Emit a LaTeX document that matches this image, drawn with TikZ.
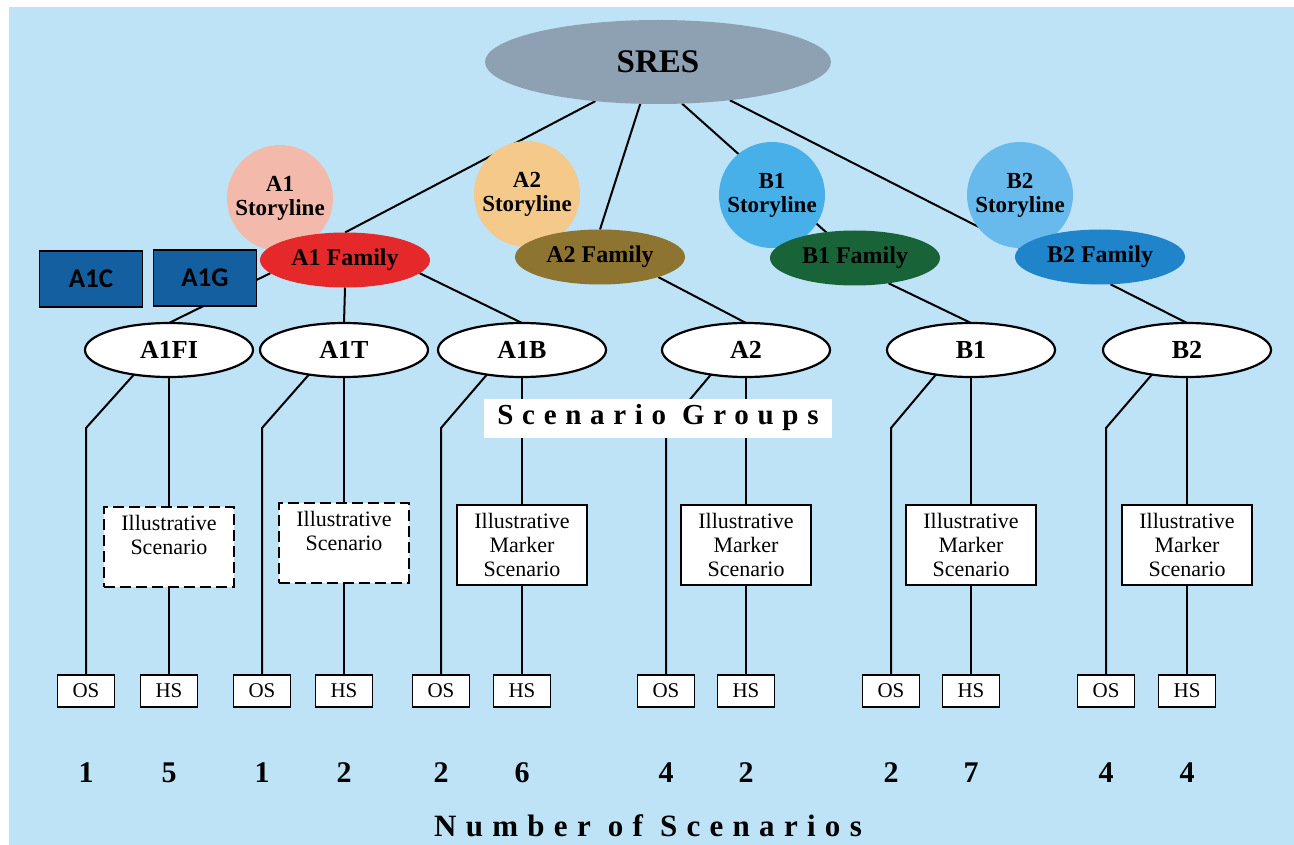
\documentclass[tikz,border=0pt]{standalone}
\usepackage{fontspec}
\setmainfont{Liberation Serif}
\newfontfamily\boxsans{Carlito}
\newfontfamily\trackedserif[LetterSpace=30]{Liberation Serif}
\usetikzlibrary{shapes.geometric}
\pgfdeclarelayer{panel}
\pgfdeclarelayer{links}
\pgfsetlayers{panel,links,main}

\definecolor{panelblue}{RGB}{190,226,246}
\definecolor{sresgrey}{RGB}{142,161,178}
\definecolor{aonestory}{RGB}{243,186,172}
\definecolor{atwostory}{RGB}{245,201,138}
\definecolor{bonestory}{RGB}{72,176,232}
\definecolor{btwostory}{RGB}{104,186,236}
\definecolor{aonefam}{RGB}{229,40,42}
\definecolor{atwofam}{RGB}{141,116,48}
\definecolor{bonefam}{RGB}{24,100,56}
\definecolor{btwofam}{RGB}{32,132,202}
\definecolor{subblue}{RGB}{20,95,160}

\tikzset{
  every node/.style={inner sep=0pt, outer sep=0pt},
  link/.style={draw=black, line width=2pt, line join=round},
  sresnode/.style={ellipse, fill=sresgrey, minimum width=346pt, minimum height=84pt,
    font=\fontsize{33}{36}\selectfont\bfseries},
  story/.style={circle, minimum size=106pt, align=center,
    font=\fontsize{23}{24}\selectfont\bfseries},
  family/.style={ellipse, minimum width=170pt, minimum height=55pt,
    font=\fontsize{24}{26}\selectfont\bfseries},
  subbox/.style={rectangle, draw=black, line width=1.8pt, fill=subblue,
    minimum width=103pt, minimum height=56pt, font=\boxsans\fontsize{27}{29}\selectfont\bfseries},
  group/.style={ellipse, draw=black, line width=2.2pt, fill=white,
    minimum width=168pt, minimum height=54pt, font=\fontsize{26}{28}\selectfont\bfseries},
  illus/.style={rectangle, draw=black, line width=1.8pt, fill=white,
    minimum width=130pt, minimum height=80pt, align=center,
    font=\fontsize{22}{24}\selectfont},
  tentative/.style={dash pattern=on 11pt off 5pt},
  runbox/.style={rectangle, draw=black, line width=1.8pt, fill=white,
    minimum width=57pt, minimum height=32pt, font=\fontsize{21}{23}\selectfont},
  count/.style={font=\fontsize{30}{32}\selectfont\bfseries},
  heading/.style={font=\trackedserif\fontsize{29}{31}\selectfont\bfseries},
}

\begin{document}
\begin{tikzpicture}[x=1pt, y=-1pt]
\useasboundingbox (0,0) rectangle (1294,845);

\begin{pgfonlayer}{panel}
  \fill[white] (0,0) rectangle (1294,845);
  \fill[panelblue] (9,7) rectangle (1294,845);
\end{pgfonlayer}

% root
\node[sresnode] (sres) at (658,62) {SRES};

% storylines
\node[story, fill=aonestory] (a1story) at (280,198) {A1\\Storyline};
\node[story, fill=atwostory] (a2story) at (527,194) {A2\\Storyline};
\node[story, fill=bonestory] (b1story) at (772,195) {B1\\Storyline};
\node[story, fill=btwostory] (b2story) at (1020,195) {B2\\Storyline};

% families
\node[family, fill=aonefam] (a1fam) at (345,260) {A1 Family};
\node[family, fill=atwofam] (a2fam) at (600,257) {A2 Family};
\node[family, fill=bonefam] (b1fam) at (855,258) {B1 Family};
\node[family, fill=btwofam] (b2fam) at (1100,257) {B2 Family};

% A1 sub-families
\node[subbox] (a1c) at (91,279) {A1C};
\node[subbox] (a1g) at (205,278) {A1G};

% scenario groups
\node[group] (a1fi) at (169,350) {A1FI};
\node[group] (a1t)  at (344,350) {A1T};
\node[group] (a1b)  at (522,350) {A1B};
\node[group] (a2)   at (746,350) {A2};
\node[group] (b1)   at (971,350) {B1};
\node[group] (b2)   at (1187,350) {B2};

\node[fill=white, minimum width=348pt, minimum height=39pt, heading] (groupslabel) at (658,418) {Scenario Groups};

% illustrative scenarios
\node[illus, tentative] (ia1fi) at (169,547) {Illustrative\\Scenario\\\phantom{M}};
\node[illus, tentative] (ia1t)  at (344,543) {Illustrative\\Scenario\\\phantom{M}};
\node[illus] (ia1b) at (522,545) {Illustrative\\Marker\\Scenario};
\node[illus] (ia2)  at (746,545) {Illustrative\\Marker\\Scenario};
\node[illus] (ib1)  at (971,545) {Illustrative\\Marker\\Scenario};
\node[illus] (ib2)  at (1187,545) {Illustrative\\Marker\\Scenario};

% OS / HS runs
\node[runbox] (osa1fi) at (86,691)  {OS};
\node[runbox] (hsa1fi) at (169,691) {HS};
\node[runbox] (osa1t)  at (262,691) {OS};
\node[runbox] (hsa1t)  at (344,691) {HS};
\node[runbox] (osa1b)  at (441,691) {OS};
\node[runbox] (hsa1b)  at (522,691) {HS};
\node[runbox] (osa2)   at (666,691) {OS};
\node[runbox] (hsa2)   at (746,691) {HS};
\node[runbox] (osb1)   at (891,691) {OS};
\node[runbox] (hsb1)   at (971,691) {HS};
\node[runbox] (osb2)   at (1106,691) {OS};
\node[runbox] (hsb2)   at (1187,691) {HS};

% counts
\node[count] (na1) at (86,773)  {1};
\node[count] (nb1) at (169,773) {5};
\node[count] (nc1) at (262,773) {1};
\node[count] (nd1) at (344,773) {2};
\node[count] (ne1) at (441,773) {2};
\node[count] (nf1) at (522,773) {6};
\node[count] (ng1) at (666,773) {4};
\node[count] (nh1) at (746,773) {2};
\node[count] (ni1) at (891,773) {2};
\node[count] (nj1) at (971,773) {7};
\node[count] (nk1) at (1106,773) {4};
\node[count] (nl1) at (1187,773) {4};

\node[heading, font=\trackedserif\fontsize{31}{33}\selectfont\bfseries] (countslabel) at (648,826) {Number of Scenarios};

\coordinate (kink) at (0,428);

\begin{pgfonlayer}{links}
  % root to families
  \draw[link] (sres.212) -- (a1fam.north);
  \draw[link] (sres.247) -- (a2fam.north);
  \draw[link] (sres.300) -- (b1fam.center);
  \draw[link] (sres.332) -- (b2story.south);
  % families to groups
  \draw[link] (a1fam.190) -- (a1fi.north);
  \draw[link] (a1fam.south) -- (a1t.north);
  \draw[link] (a1fam.-10) -- (a1b.north);
  \draw[link] (a2fam.-19) -- (a2.north);
  \draw[link] (b1fam.-37) -- (b1.north);
  \draw[link] (b2fam.-69) -- (b2.north);
  % groups to runs
  \foreach \g in {a1fi,a1t,a1b,a2,b1,b2}{
    \draw[link] (\g.215) -- (os\g.north |- kink) -- (os\g.north);
    \draw[link] (\g.south) -- (i\g.north);
    \draw[link] (i\g.south) -- (hs\g.north);
  }
\end{pgfonlayer}
\end{tikzpicture}
\end{document}
